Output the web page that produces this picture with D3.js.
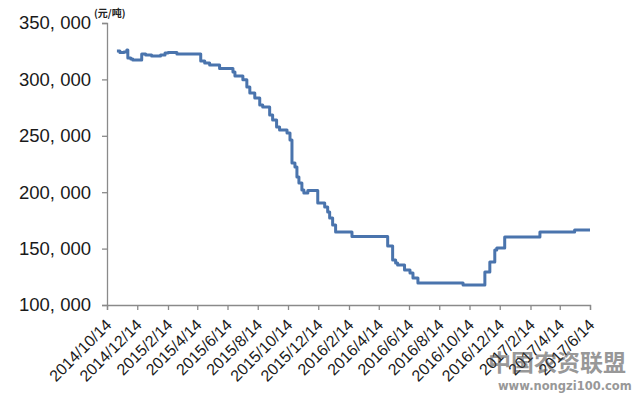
<!DOCTYPE html>
<html>
<head>
<meta charset="utf-8">
<script src="https://cdn.jsdelivr.net/npm/d3@7"></script>
<style>
  html, body { margin: 0; padding: 0; background: #fff; }
  svg { display: block; }
</style>
</head>
<body>
<svg id="chart" width="640" height="394"></svg>
<script>
// ---- data ----
const dates = [
  "2014-11-03","2014-11-09","2014-11-17","2014-11-23","2014-11-25","2014-12-01","2014-12-05",
  "2014-12-23","2014-12-31","2015-01-12","2015-01-30","2015-02-08","2015-02-14","2015-03-04",
  "2015-04-21","2015-04-29","2015-05-09","2015-05-29","2015-06-25","2015-06-29","2015-07-15",
  "2015-07-23","2015-07-29","2015-08-08","2015-08-18","2015-08-24","2015-09-07","2015-09-13",
  "2015-09-21","2015-09-27","2015-10-12","2015-10-18","2015-10-22","2015-10-28","2015-11-01",
  "2015-11-05","2015-11-11","2015-11-15","2015-11-23","2015-12-13","2015-12-27","2016-01-02",
  "2016-01-06","2016-01-12","2016-01-18","2016-02-20","2016-05-02","2016-05-12","2016-05-18",
  "2016-05-22","2016-06-05","2016-06-16","2016-06-22","2016-07-02","2016-10-01","2016-11-14",
  "2016-11-24","2016-12-04","2016-12-08","2016-12-24","2017-03-05","2017-05-14","2017-06-14"
];
const prices = [
  325200,323800,324200,326000,319000,318000,317200,
  322500,321600,320700,321600,323400,323800,322500,
  316300,314500,312800,309700,306600,303000,299600,
  293300,288000,283500,277300,275500,268400,264000,
  257800,255100,252500,246200,225800,222300,213500,
  208200,202000,199300,201500,190400,186900,182400,
  177100,170900,164700,160700,152300,139900,137200,
  135500,131000,128400,124000,119500,117700,129300,
  138100,148800,150500,160300,164700,166500,166500
];
const yTicks = [100000,150000,200000,250000,300000,350000];
const xTickLabels = [
  "2014/10/14","2014/12/14","2015/2/14","2015/4/14","2015/6/14","2015/8/14",
  "2015/10/14","2015/12/14","2016/2/14","2016/4/14","2016/6/14","2016/8/14",
  "2016/10/14","2016/12/14","2017/2/14","2017/4/14","2017/6/14"
];
const unitLabel = "(元/吨)";

// ---- drawing ----
const parse = d3.timeParse("%Y-%m-%d");
const parseTick = d3.timeParse("%Y/%m/%d");
const data = dates.map((d, i) => ({ date: parse(d), value: prices[i] }));
const tickDates = xTickLabels.map(s => parseTick(s));

const svg = d3.select("#chart");
const mLeft = 107, mRight = 590, mTop = 23, mBottom = 305;

const x = d3.scaleTime()
  .domain([tickDates[0], tickDates[tickDates.length - 1]])
  .range([mLeft, mRight]);
const y = d3.scaleLinear().domain([100000, 350000]).range([mBottom, mTop]);

const axisColor = "#8a8a8a";
const fmt = d3.format(",");

// Y axis
const yAxis = svg.append("g")
  .attr("transform", `translate(${mLeft},0)`)
  .call(d3.axisLeft(y).tickValues(yTicks).tickSize(5).tickPadding(11)
        .tickFormat(d => fmt(d).replace(/,/g, ", ")));
yAxis.select(".domain").attr("stroke", axisColor).attr("stroke-width", 1.3);
yAxis.selectAll(".tick line").attr("stroke", axisColor).attr("stroke-width", 1.3);
yAxis.selectAll(".tick text")
  .attr("fill", "#1a1a1a")
  .style("font-family", "'Liberation Sans', Arial, sans-serif")
  .style("font-size", "18.5px");

// X axis
const xAxis = svg.append("g")
  .attr("transform", `translate(0,${mBottom})`)
  .call(d3.axisBottom(x).tickValues(tickDates).tickSize(5)
        .tickFormat((d, i) => xTickLabels[i]));
xAxis.select(".domain").attr("stroke", axisColor).attr("stroke-width", 1.3);
xAxis.selectAll(".tick line").attr("stroke", axisColor).attr("stroke-width", 1.3);
xAxis.selectAll(".tick text")
  .attr("fill", "#1a1a1a")
  .style("font-family", "'Liberation Sans', Arial, sans-serif")
  .style("font-size", "16px")
  .attr("text-anchor", "end")
  .attr("x", 0).attr("y", 0).attr("dy", 0)
  .attr("transform", "translate(5,21) rotate(-45)");

// unit label
svg.append("text")
  .attr("x", mLeft - 13).attr("y", 17)
  .attr("fill", "#222")
  .style("font-family", "'Noto Sans CJK SC', sans-serif")
  .style("font-size", "10px")
  .style("font-weight", "bold")
  .text(unitLabel);

// Line
const line = d3.line()
  .x(d => x(d.date))
  .y(d => y(d.value))
  .curve(d3.curveStepAfter);

svg.append("path")
  .datum(data)
  .attr("fill", "none")
  .attr("stroke", "#4a74ad")
  .attr("stroke-width", 3)
  .attr("stroke-linejoin", "round")
  .attr("d", line);

// watermark
const wm = svg.append("g").attr("opacity", 0.55);
wm.append("text")
  .attr("x", 488).attr("y", 371)
  .attr("fill", "#444")
  .style("font-family", "'Noto Sans CJK SC', sans-serif")
  .style("font-size", "23px")
  .style("font-weight", "bold")
  .text("中国农资联盟");
wm.append("text")
  .attr("x", 498).attr("y", 390)
  .attr("fill", "#444")
  .style("font-family", "'DejaVu Sans', sans-serif")
  .style("font-size", "11.5px")
  .style("font-weight", "bold")
  .text("www.nongzi100.com");
</script>
</body>
</html>
